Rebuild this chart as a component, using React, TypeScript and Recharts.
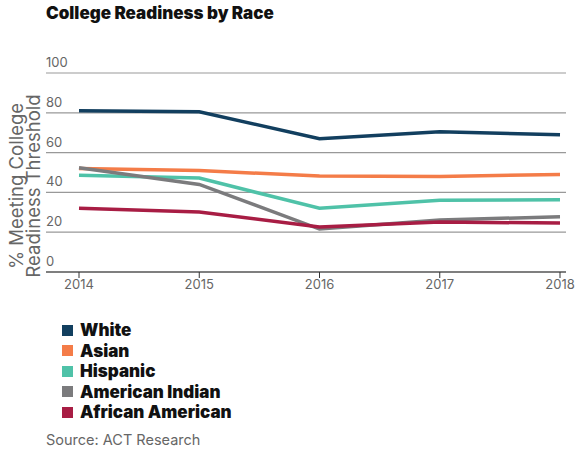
import React from 'react';
import { LineChart, Line, XAxis, YAxis, CartesianGrid } from 'recharts';

const years = ['2014', '2015', '2016', '2017', '2018'];
const white = [81, 80.5, 67, 70.5, 69];
const asian = [52, 51, 48.2, 48, 49];
const hispanic = [48.6, 47.2, 32, 36, 36.3];
const americanIndian = [52.4, 44, 21.6, 26.1, 27.8];
const africanAmerican = [32, 30.2, 22.6, 25.1, 24.6];
const yTicks = [0, 20, 40, 60, 80, 100];

const series = [
  { key: 'white', name: 'White', color: '#123f5f', values: white },
  { key: 'asian', name: 'Asian', color: '#f47c48', values: asian },
  { key: 'hispanic', name: 'Hispanic', color: '#4fc2a8', values: hispanic },
  { key: 'americanIndian', name: 'American Indian', color: '#7b7b7d', values: americanIndian },
  { key: 'africanAmerican', name: 'African American', color: '#a81d44', values: africanAmerican },
];

const data = years.map((y, i) => {
  const row: any = { year: y };
  series.forEach((s) => { row[s.key] = s.values[i]; });
  return row;
});

const font = 'Inter, "Open Sans", sans-serif';

const renderYTick = (props: any) => {
  const { y, payload } = props;
  return (
    <text x={46} y={y - 6} fontSize={13} fill="#666" fontFamily={font} textAnchor="start">
      {payload.value}
    </text>
  );
};

export default function App() {
  return (
    <div style={{ position: 'absolute', left: 0, top: 0, width: 575, height: 451, background: '#fff', fontFamily: font }}>
      <div style={{ position: 'absolute', left: 46, top: 3, fontSize: 17, fontWeight: 900, color: '#111' }}>
        College Readiness by Race
      </div>
      <div style={{ position: 'absolute', left: 0, top: 0 }}>
        <LineChart width={575} height={310} data={data} margin={{ top: 73, right: 9, left: 0, bottom: 8 }}>
          <CartesianGrid vertical={false} stroke="#999" strokeWidth={1.2} />
          <XAxis
            dataKey="year"
            padding={{ left: 33, right: 6 }}
            axisLine={{ stroke: '#333', strokeWidth: 1.2 }}
            tickLine={{ stroke: '#333' }}
            tickSize={6}
            height={30}
            tick={{ fill: '#666', fontSize: 13, fontFamily: font }}
          />
          <YAxis domain={[0, 100]} ticks={yTicks} width={46} axisLine={false} tickLine={false} tick={renderYTick} />
          {series.map((s) => (
            <Line
              key={s.key}
              dataKey={s.key}
              name={s.name}
              stroke={s.color}
              strokeWidth={3.5}
              dot={false}
              type="linear"
              isAnimationActive={false}
            />
          ))}
        </LineChart>
      </div>
      <svg style={{ position: 'absolute', left: 0, top: 0 }} width={46} height={300}>
        <text transform="translate(23,186) rotate(-90)" textAnchor="middle" fontSize={18.5} fill="#666" fontFamily={font}>
          <tspan x={0} dy={0}>% Meeting College</tspan>
          <tspan x={0} dy={16.5}>Readiness Threshold</tspan>
        </text>
      </svg>
      <div style={{ position: 'absolute', left: 62, top: 320 }}>
        {series.map((s) => (
          <div key={s.key} style={{ display: 'flex', alignItems: 'center', height: 20.5 }}>
            <span style={{ width: 11, height: 11, background: s.color, display: 'inline-block', marginRight: 7 }} />
            <span style={{ fontSize: 17, fontWeight: 900, color: '#111' }}>{s.name}</span>
          </div>
        ))}
      </div>
      <div style={{ position: 'absolute', left: 46, top: 431, fontSize: 14.5, color: '#666' }}>
        Source: ACT Research
      </div>
    </div>
  );
}
